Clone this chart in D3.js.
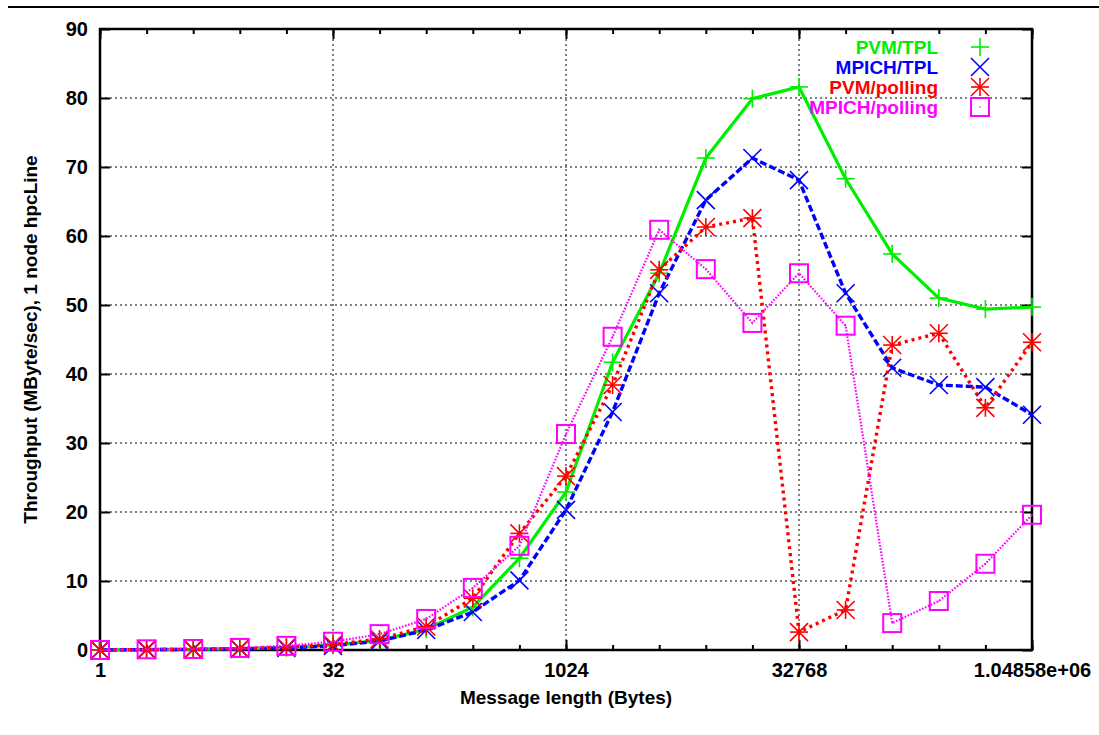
<!DOCTYPE html>
<html>
<head>
<meta charset="utf-8">
<script src="https://cdn.jsdelivr.net/npm/d3@7"></script>
<style>
  html, body { margin: 0; padding: 0; background: #fff; }
  svg { display: block; }
  text { font-family: "Liberation Sans", Arial, Helvetica, sans-serif; font-weight: bold; }
</style>
</head>
<body>
<svg id="chart" width="1099" height="735"></svg>
<script>
// Message sizes in bytes (one measurement per power of two)
const messageSizes = [1, 2, 4, 8, 16, 32, 64, 128, 256, 512, 1024, 2048, 4096, 8192,
  16384, 32768, 65536, 131072, 262144, 524288, 1048576];

// Throughput in MByte/sec, 1 node hpcLine
const pvmTpl = [0, 0.1, 0.1, 0.2, 0.35, 0.7, 1.4, 3.0, 6.2, 13.3, 22.9, 41.7, 54.6,
  71.3, 79.9, 81.6, 68.3, 57.4, 51.0, 49.4, 49.7];
const mpichTpl = [0, 0.05, 0.1, 0.15, 0.3, 0.6, 1.3, 2.9, 5.5, 10.1, 20.3, 34.5, 51.7,
  65.2, 71.3, 68.1, 51.7, 40.9, 38.4, 38.1, 34.1];
const pvmPolling = [0, 0.05, 0.1, 0.2, 0.4, 0.8, 1.6, 3.4, 7.5, 16.9, 25.2, 38.4, 55.1,
  61.3, 62.6, 2.6, 5.8, 44.2, 45.9, 35.1, 44.6];
const mpichPolling = [0, 0.1, 0.15, 0.3, 0.6, 1.2, 2.3, 4.5, 9.0, 15.1, 31.3, 45.4, 60.9,
  55.2, 47.4, 54.6, 47.0, 3.9, 7.1, 12.5, 19.6];

const seriesNames = ["PVM/TPL", "MPICH/TPL", "PVM/polling", "MPICH/polling"];

// Axis ticks
const xMajorTicks = [1, 32, 1024, 32768, 1048576];
const xMajorLabels = ["1", "32", "1024", "32768", "1.04858e+06"];
const yTicks = [0, 10, 20, 30, 40, 50, 60, 70, 80, 90];

const xTitle = "Message length (Bytes)";
const yTitle = "Throughput (MByte/sec), 1 node hpcLine";

(function draw() {
  const svg = d3.select("#chart");
  const pLeft = 100, pRight = 1032, pTop = 29, pBottom = 650;

  const x = d3.scaleLog().base(2).domain([1, 1048576]).range([pLeft, pRight]);
  const y = d3.scaleLinear().domain([0, 90]).range([pBottom, pTop]);

  // Rule across the top of the page
  svg.append("line").attr("x1", 8).attr("x2", 1099).attr("y1", 7).attr("y2", 7)
    .attr("stroke", "#000").attr("stroke-width", 2);

  // Dotted grid
  const grid = svg.append("g").attr("stroke", "#000").attr("stroke-width", 1)
    .attr("stroke-dasharray", "2,3");
  grid.selectAll("line.gx").data(xMajorTicks.slice(1, -1)).join("line").attr("class", "gx")
    .attr("x1", d => x(d)).attr("x2", d => x(d)).attr("y1", pTop).attr("y2", pBottom);
  grid.selectAll("line.gy").data(yTicks.slice(1, -1)).join("line").attr("class", "gy")
    .attr("x1", pLeft).attr("x2", pRight).attr("y1", d => y(d)).attr("y2", d => y(d));

  function styleAxis(g) {
    g.select(".domain").remove();
    g.selectAll(".tick line").attr("stroke", "#000").attr("stroke-width", 2);
    g.selectAll(".tick text").attr("fill", "#000").style("font-size", "20px")
      .style("font-family", "'Liberation Sans', Arial, sans-serif").style("font-weight", "bold");
  }

  // Minor ticks at every power of two, bottom and top (inward)
  svg.append("g").attr("transform", `translate(0,${pBottom})`)
    .call(d3.axisBottom(x).tickValues(messageSizes).tickSize(-5).tickFormat(""))
    .call(styleAxis);
  svg.append("g").attr("transform", `translate(0,${pTop})`)
    .call(d3.axisTop(x).tickValues(messageSizes).tickSize(-5).tickFormat(""))
    .call(styleAxis);

  // Major x ticks with labels
  svg.append("g").attr("transform", `translate(0,${pBottom})`)
    .call(d3.axisBottom(x).tickValues(xMajorTicks).tickSize(-10).tickPadding(13)
      .tickFormat((d, i) => xMajorLabels[i]))
    .call(styleAxis);
  svg.append("g").attr("transform", `translate(0,${pTop})`)
    .call(d3.axisTop(x).tickValues(xMajorTicks).tickSize(-10).tickFormat(""))
    .call(styleAxis);

  // Y ticks, left with labels and mirrored on the right
  svg.append("g").attr("transform", `translate(${pLeft},0)`)
    .call(d3.axisLeft(y).tickValues(yTicks).tickSize(-10).tickPadding(12))
    .call(styleAxis);
  svg.append("g").attr("transform", `translate(${pRight},0)`)
    .call(d3.axisRight(y).tickValues(yTicks).tickSize(-10).tickFormat(""))
    .call(styleAxis);

  // Plot border
  svg.append("rect").attr("x", pLeft).attr("y", pTop)
    .attr("width", pRight - pLeft).attr("height", pBottom - pTop)
    .attr("fill", "none").attr("stroke", "#000").attr("stroke-width", 2.5);

  // Axis titles
  svg.append("text").attr("x", (pLeft + pRight) / 2).attr("y", 704)
    .attr("text-anchor", "middle").style("font-size", "19px").text(xTitle);
  svg.append("text").attr("transform", `translate(37,${(pTop + pBottom) / 2}) rotate(-90)`)
    .attr("text-anchor", "middle").style("font-size", "19px").text(yTitle);

  // Point symbols
  const half = 9;
  function drawMarker(g, kind, color) {
    const s = g.append("g").attr("stroke", color).attr("stroke-width", 1.6).attr("fill", "none");
    if (kind === "plus" || kind === "star") {
      s.append("line").attr("x1", -half).attr("x2", half).attr("y1", 0).attr("y2", 0);
      s.append("line").attr("x1", 0).attr("x2", 0).attr("y1", -half).attr("y2", half);
    }
    if (kind === "cross" || kind === "star") {
      s.append("line").attr("x1", -half).attr("x2", half).attr("y1", -half).attr("y2", half);
      s.append("line").attr("x1", -half).attr("x2", half).attr("y1", half).attr("y2", -half);
    }
    if (kind === "square") {
      s.append("rect").attr("x", -half).attr("y", -half).attr("width", 2 * half).attr("height", 2 * half)
        .attr("stroke-width", 2);
      s.append("circle").attr("r", 0.8).attr("fill", color).attr("stroke", "none");
    }
  }

  const series = [
    { name: seriesNames[0], values: pvmTpl, color: "#00ee00", width: 3.2, dash: null, marker: "plus" },
    { name: seriesNames[1], values: mpichTpl, color: "#0000ff", width: 3.4, dash: "7,3", marker: "cross" },
    { name: seriesNames[2], values: pvmPolling, color: "#ff0000", width: 3.4, dash: "3,4", marker: "star" },
    { name: seriesNames[3], values: mpichPolling, color: "#ff00ff", width: 2.2, dash: "1.6,1.6", marker: "square" }
  ];

  const line = d3.line().x(d => x(d[0])).y(d => y(d[1]));

  series.forEach(sr => {
    const pts = messageSizes.map((m, i) => [m, sr.values[i]]);
    const g = svg.append("g");
    g.append("path").datum(pts).attr("d", line).attr("fill", "none")
      .attr("stroke", sr.color).attr("stroke-width", sr.width)
      .attr("stroke-dasharray", sr.dash);
    pts.forEach(p => {
      const mg = g.append("g").attr("transform", `translate(${x(p[0])},${y(p[1])})`);
      drawMarker(mg, sr.marker, sr.color);
    });
  });

  // Legend
  const legendY = [47, 67, 87, 107];
  series.forEach((sr, i) => {
    svg.append("text").attr("x", 938).attr("y", legendY[i]).attr("dy", "0.36em")
      .attr("text-anchor", "end").attr("fill", sr.color).style("font-size", "19px").text(sr.name);
    const mg = svg.append("g").attr("transform", `translate(980,${legendY[i]})`);
    drawMarker(mg, sr.marker, sr.color);
  });
})();
</script>
</body>
</html>
